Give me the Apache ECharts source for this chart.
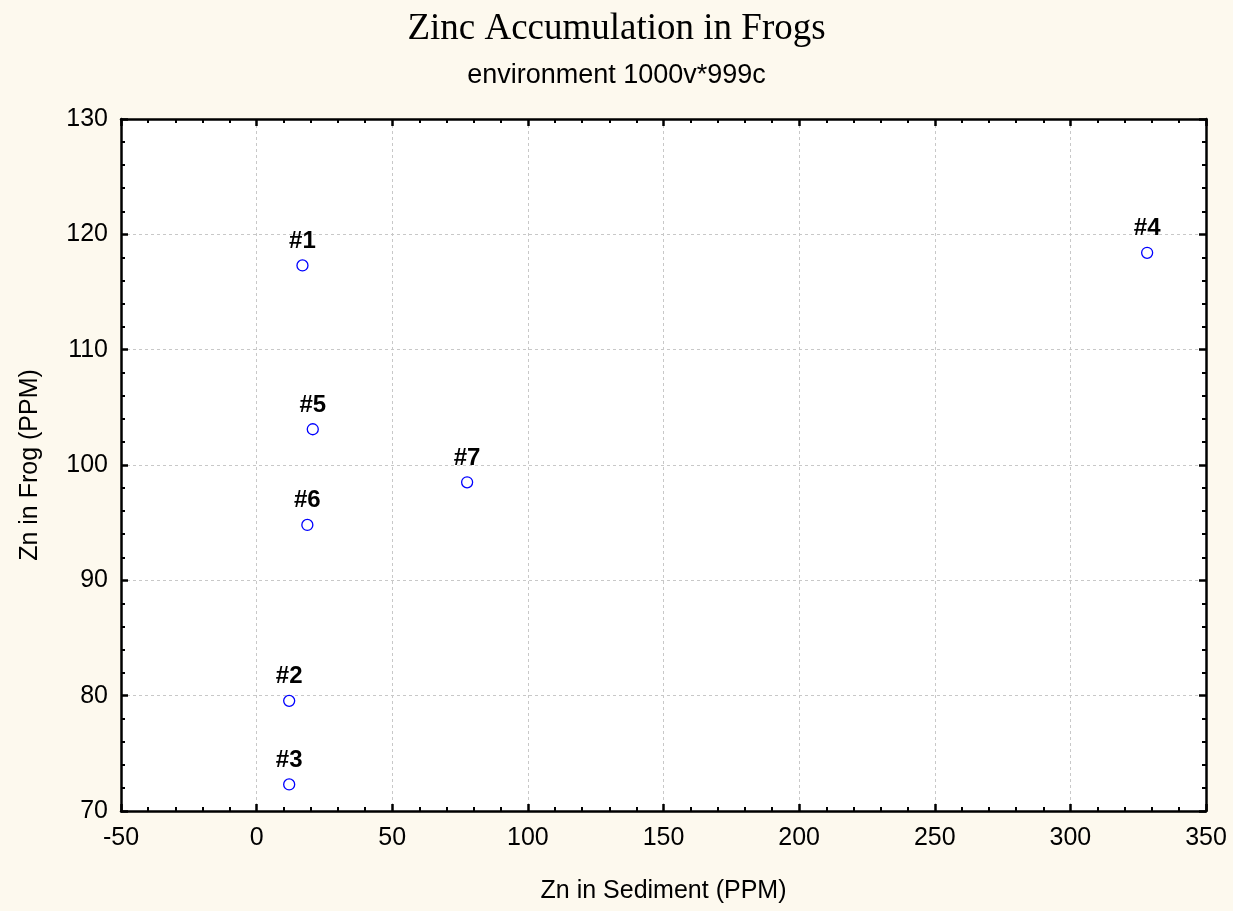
<!DOCTYPE html>
<html>
<head>
<meta charset="utf-8">
<script src="https://cdn.jsdelivr.net/npm/echarts@6/dist/echarts.min.js"></script>
<style>html,body{margin:0;padding:0;background:#FDF9EE;}#c{width:1233px;height:911px;}</style>
</head>
<body>
<div id="c"></div>
<script>
var labels = ['#1', '#2', '#3', '#4', '#5', '#6', '#7'];
var sediment = [16.9, 12.0, 12.0, 328.3, 20.7, 18.7, 77.6];
var frog = [117.3, 79.55, 72.3, 118.4, 103.1, 94.8, 98.5];

var pts = labels.map(function (l, i) { return { name: l, value: [sediment[i], frog[i]] }; });

var chart = echarts.init(document.getElementById('c'));
var tickStyle = { show: true, inside: true, length: 7, lineStyle: { color: '#000', width: 2.5 } };
var minorStyle = { show: true, splitNumber: 5, length: 4, lineStyle: { color: '#000', width: 2 } };
var lineStyle = { show: true, onZero: false, lineStyle: { color: '#000', width: 2.5 } };
var lbl = { color: '#000', fontFamily: 'Liberation Sans, Arial', fontSize: 25 };
var grid = { show: true, lineStyle: { color: '#c8c8c8', type: [3, 3], width: 1 } };
chart.setOption({
  backgroundColor: '#FDF9EE',
  title: [
    { text: 'Zinc Accumulation in Frogs', left: 'center', top: 6,
      textStyle: { fontFamily: 'Liberation Serif, Times New Roman', fontWeight: 'normal', fontSize: 37, color: '#000' } },
    { text: 'environment 1000v*999c', left: 'center', top: 57,
      textStyle: { fontFamily: 'Liberation Sans, Arial', fontWeight: 'normal', fontSize: 27, color: '#000' } }
  ],
  grid: { left: 121, right: 27, top: 119, bottom: 100, show: true, backgroundColor: '#fff', borderWidth: 0 },
  xAxis: [
    { type: 'value', min: -50, max: 350, interval: 50, position: 'bottom',
      name: 'Zn in Sediment (PPM)', nameLocation: 'middle', nameGap: 68,
      nameTextStyle: lbl,
      axisLine: lineStyle, axisTick: tickStyle, minorTick: minorStyle,
      axisLabel: Object.assign({ margin: 15 }, lbl),
      splitLine: grid },
    { type: 'value', min: -50, max: 350, interval: 50, position: 'top',
      axisLine: lineStyle, axisTick: tickStyle, minorTick: minorStyle,
      axisLabel: { show: false }, splitLine: { show: false } }
  ],
  yAxis: [
    { type: 'value', min: 70, max: 130, interval: 10, position: 'left',
      name: 'Zn in Frog (PPM)', nameLocation: 'middle', nameGap: 78,
      nameTextStyle: lbl,
      axisLine: lineStyle, axisTick: tickStyle, minorTick: minorStyle,
      axisLabel: Object.assign({ margin: 13 }, lbl),
      splitLine: grid },
    { type: 'value', min: 70, max: 130, interval: 10, position: 'right',
      axisLine: lineStyle, axisTick: tickStyle, minorTick: minorStyle,
      axisLabel: { show: false }, splitLine: { show: false } }
  ],
  series: [{
    type: 'scatter', xAxisIndex: 0, yAxisIndex: 0,
    data: pts, symbol: 'circle', symbolSize: 11,
    itemStyle: { color: '#fff', borderColor: '#0000ff', borderWidth: 1.3, opacity: 1 },
    label: { show: true, position: 'top', distance: 6, formatter: '{b}', opacity: 1,
      color: '#000', fontFamily: 'Liberation Sans, Arial', fontWeight: 'bold', fontSize: 24 },
    emphasis: { disabled: true }
  }],
  animation: false
});
</script>
</body>
</html>
